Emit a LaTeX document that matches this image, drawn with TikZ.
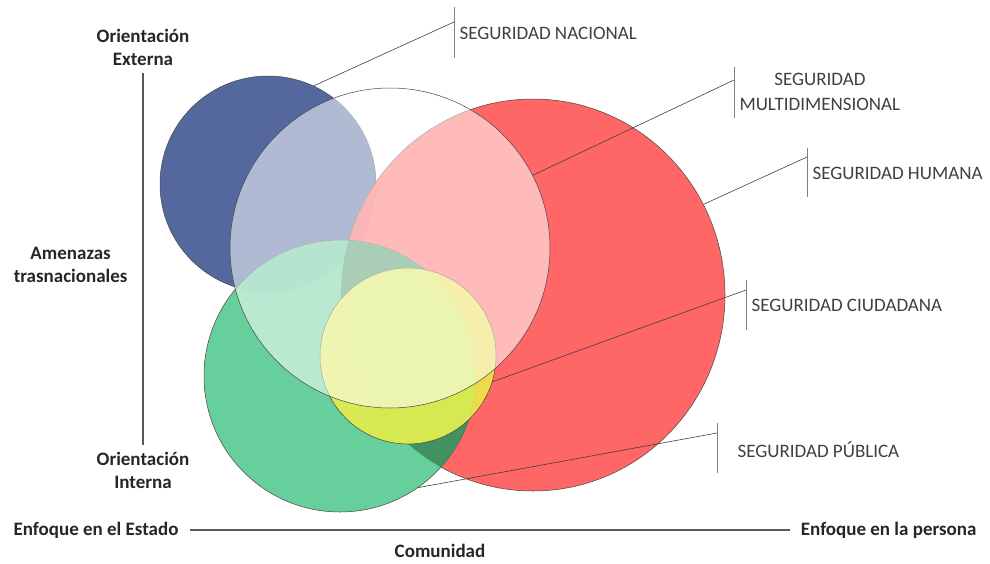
\documentclass[tikz,border=0pt]{standalone}
\usepackage{fontspec}
\setmainfont{Carlito}
\usetikzlibrary{shapes.geometric}
\definecolor{azul}{RGB}{84,104,158}
\definecolor{rojo}{RGB}{255,92,92}
\definecolor{verde}{RGB}{94,204,150}
\definecolor{verdeosc}{RGB}{62,140,92}
\definecolor{amarillo}{RGB}{236,240,70}
\definecolor{borde}{RGB}{70,70,70}
\definecolor{texto}{RGB}{64,64,64}

\begin{document}
\begin{tikzpicture}[x=1pt,y=-1pt,
        conj/.style={circle,draw=borde,line width=0.5pt,inner sep=0pt},
        guia/.style={draw=texto,line width=0.6pt},
        barra/.style={draw=gray,line width=0.8pt},
        etiq/.style={anchor=west,text=texto,font=\fontsize{19}{25}\selectfont,align=center},
        eje/.style={font=\bfseries\fontsize{19}{23}\selectfont,text=black!85,align=center}]
        \useasboundingbox (0,0) rectangle (990,563);

        \node[conj,fill=azul,minimum size=216pt] (nac) at (268,184) {};
        \node[ellipse,draw=borde,line width=0.5pt,inner sep=0pt,fill=rojo,fill opacity=0.94,
              minimum width=384pt,minimum height=392pt] (hum) at (533,295) {};
        \node[conj,fill=verde,fill opacity=0.95,minimum size=272pt] (pub) at (340,376) {};
        \begin{scope}
          \clip (pub.center) circle[radius=136pt];
          \clip (hum.center) ellipse[x radius=192pt,y radius=196pt];
          \fill[verdeosc,opacity=0.9,even odd rule] (0,0) rectangle (990,563)
            (408,356) circle[radius=88pt];
        \end{scope}
        \node[conj,fill=amarillo,fill opacity=0.85,minimum size=176pt] (ciu) at (408,356) {};
        \node[conj,fill=white,fill opacity=0.55,minimum size=320pt] (mult) at (390,248) {};

        \coordinate (nacA) at (454,7);
        \coordinate (nacB) at (454,58);
        \coordinate (nacG) at (454,22);
        \coordinate (multA) at (734,67);
        \coordinate (multB) at (734,118);
        \coordinate (multG) at (734,80);
        \coordinate (humA) at (807,148);
        \coordinate (humB) at (807,197);
        \coordinate (humG) at (807,157);
        \coordinate (ciuA) at (746,280);
        \coordinate (ciuB) at (746,330);
        \coordinate (ciuG) at (746,290);
        \coordinate (pubA) at (717,423);
        \coordinate (pubB) at (717,473);
        \coordinate (pubG) at (717,433);

        \draw[barra] (nacA) to (nacB);
        \draw[barra] (multA) to (multB);
        \draw[barra] (humA) to (humB);
        \draw[barra] (ciuA) to (ciuB);
        \draw[barra] (pubA) to (pubB);

        \draw[guia] (nac.65) to (nacG);
        \draw[guia] (mult.27) to (multG);
        \draw[guia] (hum.28) to (humG);
        \draw[guia] (ciu.-17) to (ciuG);
        \draw[guia] (pub.-55) to (pubG);

        \node[etiq] (tnac) at (456,33) {SEGURIDAD NACIONAL};
        \node[etiq] (tmult) at (736,92) {SEGURIDAD\\MULTIDIMENSIONAL};
        \node[etiq] (thum) at (809,173) {SEGURIDAD HUMANA};
        \node[etiq] (tciu) at (748,305) {SEGURIDAD CIUDADANA};
        \node[etiq] (tpub) at (734,450) {SEGURIDAD PÚBLICA};

        \node[eje] (ext) at (143,47) {Orientación\\Externa};
        \node[eje] (int) at (143,470) {Orientación\\Interna};
        \node[eje,anchor=east] (amen) at (131,265) {Amenazas\\trasnacionales};
        \node[eje,anchor=west] (est) at (10,530) {Enfoque en el Estado};
        \node[eje,anchor=east] (per) at (980,530) {Enfoque en la persona};
        \node[eje] (com) at (440,551) {Comunidad};

        \draw[draw=black!65,line width=2.4pt,shorten <=4pt,shorten >=3pt] (ext) to (int);
        \draw[draw=black!65,line width=1.6pt,shorten <=8pt,shorten >=7pt] (est) to (per);
      \end{tikzpicture}
\end{document}
